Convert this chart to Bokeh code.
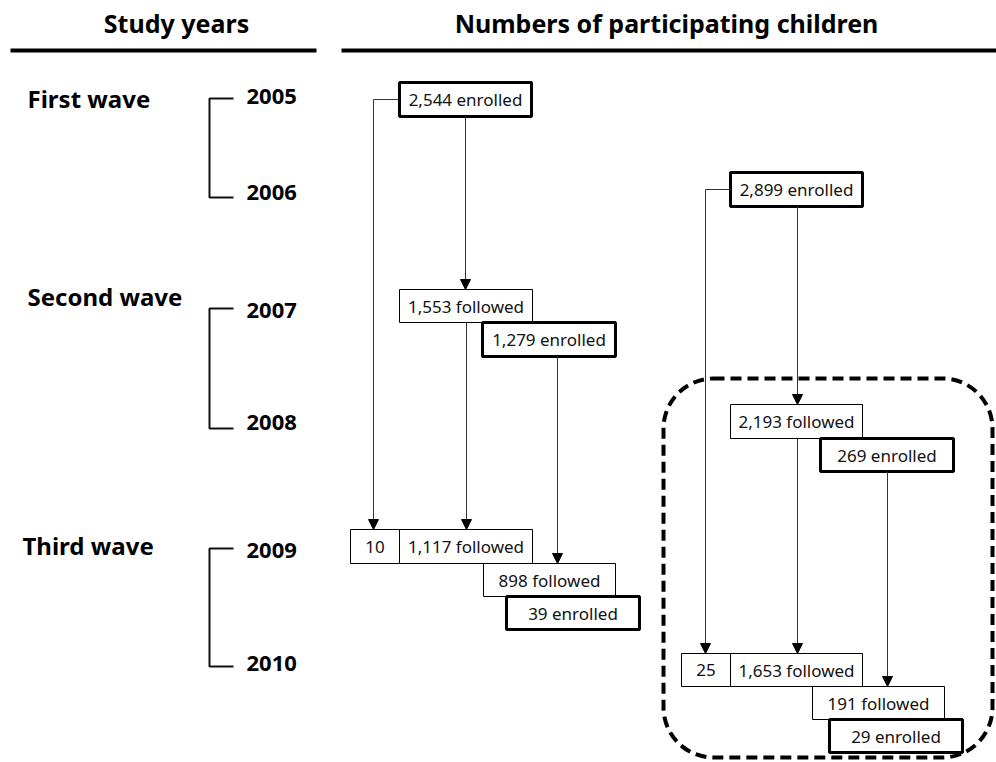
from bokeh.plotting import figure
from bokeh.models import Range1d, Arrow, NormalHead, BoxAnnotation, ColumnDataSource
from bokeh.core.properties import value
from bokeh.embed import file_html
from bokeh.resources import INLINE

# ---- data ----
box_labels = ["2,544 enrolled", "1,553 followed", "1,279 enrolled", "10", "1,117 followed",
              "898 followed", "39 enrolled", "2,899 enrolled", "2,193 followed", "269 enrolled",
              "25", "1,653 followed", "191 followed", "29 enrolled"]
box_left   = [399, 399, 482, 350, 399, 483, 506, 730, 730, 820, 681, 730, 812, 829]
box_right  = [531, 532, 615, 399, 532, 615, 639, 862, 862, 953, 730, 862, 944, 962]
box_top    = [82, 289, 322, 529, 529, 563, 596, 172, 404, 438, 653, 653, 686, 719]
box_bottom = [116, 322, 356, 563, 563, 596, 629, 206, 438, 471, 686, 686, 719, 752]
box_thick  = [1, 0, 1, 0, 0, 0, 1, 1, 0, 1, 0, 0, 0, 1]

wave_labels = ["First wave", "Second wave", "Third wave"]
wave_x = [27, 27, 22]
wave_y = [98, 296, 545]

years = ["2005", "2006", "2007", "2008", "2009", "2010"]
year_y = [96, 192, 310, 422, 550, 663]
bracket_top = [98, 308, 548]
bracket_bottom = [197, 428, 666]

# arrows: (x, y_start, y_end)
arrow_x = [373, 465, 466, 557, 705, 797, 797, 887]
arrow_y0 = [99, 116, 322, 356, 189, 206, 438, 471]
arrow_y1 = [529, 289, 529, 563, 653, 404, 653, 686]
# horizontal elbow connectors: (x0, x1, y)
elbow_x0 = [373, 705]
elbow_x1 = [399, 730]
elbow_y = [99, 189]

p = figure(width=996, height=762, x_range=Range1d(0, 996), y_range=Range1d(762, 0),
           output_backend="svg", toolbar_location=None, min_border=0)
p.axis.visible = False
p.grid.visible = False
p.outline_line_color = None

FONT = value("Noto Sans")

# headers
p.text(x=[176, 666], y=[22, 22], text=["Study years", "Numbers of participating children"],
       text_font=FONT, text_font_style="bold", text_font_size="25px",
       text_align="center", text_baseline="middle", text_color="#000")
p.segment(x0=[10, 341], y0=[50, 50], x1=[316, 996], y1=[50, 50], line_width=4, line_color="#000")

# wave labels
p.text(x=wave_x, y=wave_y, text=wave_labels, text_font=FONT, text_font_style="bold",
       text_font_size="24px", text_align="left", text_baseline="middle", text_color="#000")
p.text(x=[246] * 6, y=year_y, text=years, text_font=FONT, text_font_style="bold",
       text_font_size="22px", text_align="left", text_baseline="middle", text_color="#000")

# brackets
bxs, bys = [], []
for t, b in zip(bracket_top, bracket_bottom):
    bxs.append([233, 209, 209, 233])
    bys.append([t, t, b, b])
p.multi_line(xs=bxs, ys=bys, line_width=2, line_color="#111")

# dashed rounded box
p.add_layout(BoxAnnotation(left=663, right=992, top=378, bottom=757, fill_alpha=0,
                           line_color="#000", line_alpha=1, line_width=4, line_dash="11 6",
                           border_radius=50))

# connector lines
p.segment(x0=elbow_x0, x1=elbow_x1, y0=elbow_y, y1=elbow_y, line_color="#333", line_width=1)
for x, y0, y1 in zip(arrow_x, arrow_y0, arrow_y1):
    p.add_layout(Arrow(x_start=x, y_start=y0, x_end=x, y_end=y1,
                       line_color="#333", line_width=1,
                       end=NormalHead(size=10, fill_color="#000", line_color="#000", line_width=1)))

# boxes
src = ColumnDataSource(dict(
    left=box_left, right=box_right, top=box_top, bottom=box_bottom, label=box_labels,
    lw=[3 if t else 1 for t in box_thick],
    cx=[(l + r) / 2 for l, r in zip(box_left, box_right)],
    cy=[(t + b) / 2 for t, b in zip(box_top, box_bottom)],
))
p.quad(left="left", right="right", top="top", bottom="bottom", source=src,
       fill_color="white", line_color="#000", line_width="lw")
p.text(x="cx", y="cy", text="label", source=src, text_font=FONT, text_font_size="17px",
       text_align="center", text_baseline="middle", text_color="#111")

open("out.html", "w").write(file_html(p, INLINE))
